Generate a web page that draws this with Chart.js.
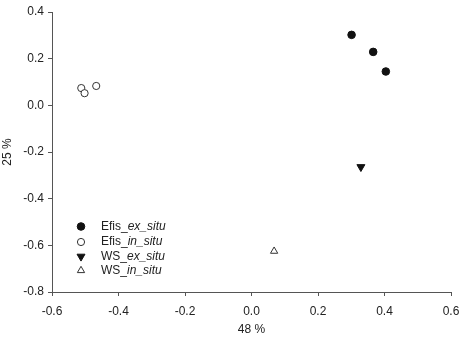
<!DOCTYPE html>
<html lang="en">
<head>
<meta charset="utf-8">
<title>PCA scatter</title>
<script src="https://cdn.jsdelivr.net/npm/chart.js"></script>
<style>
    body { margin: 0; background: #fff; }
    .wrap { width: 460px; height: 339px; position: relative; }
</style>
</head>
<body>
<div class="wrap"><canvas id="plot"></canvas></div>
<script>
// values
var efisExX = [0.301, 0.366, 0.404];
var efisExY = [0.302, 0.229, 0.145];
var efisInX = [-0.512, -0.502, -0.467];
var efisInY = [0.074, 0.052, 0.083];
var wsExX = [0.329];
var wsExY = [-0.264];
var wsInX = [0.068];
var wsInY = [-0.625];

var xTitle = "48 %";
var yTitle = "25 %";
var legendNames = [["Efis_", "ex_situ"], ["Efis_", "in_situ"], ["WS_", "ex_situ"], ["WS_", "in_situ"]];

var FONT = '"Liberation Sans", Arial, sans-serif';
var TEXT = '#222';
var AXIS = '#555';

function pts(xs, ys) {
    var out = [];
    for (var i = 0; i < xs.length; i++) out.push({x: xs[i], y: ys[i]});
    return out;
}

var sets = [
    {label: legendNames[0].join(''), data: pts(efisExX, efisExY), pointStyle: 'circle', pointRadius: 3.8, pointRotation: 0,
     backgroundColor: '#111', borderColor: '#111', pointBorderWidth: 1},
    {label: legendNames[1].join(''), data: pts(efisInX, efisInY), pointStyle: 'circle', pointRadius: 3.6, pointRotation: 0,
     backgroundColor: '#fff', borderColor: '#333', pointBorderWidth: 1},
    {label: legendNames[2].join(''), data: pts(wsExX, wsExY), pointStyle: 'triangle', pointRadius: 4.6, pointRotation: 180,
     backgroundColor: '#111', borderColor: '#111', pointBorderWidth: 1},
    {label: legendNames[3].join(''), data: pts(wsInX, wsInY), pointStyle: 'triangle', pointRadius: 4.2, pointRotation: 0,
     backgroundColor: '#fff', borderColor: '#333', pointBorderWidth: 1}
];

// legend with mixed upright / italic text, drawn inside the plot
var mixedLegend = {
    id: 'mixedLegend',
    afterDraw: function(chart) {
        var ctx = chart.ctx;
        var area = chart.chartArea;
        var mx = area.left + 29;
        var tx = area.left + 49;
        var rows = [226.5, 242, 256.5, 270.5];
        ctx.save();
        for (var i = 0; i < sets.length; i++) {
            var d = sets[i];
            ctx.fillStyle = d.backgroundColor;
            ctx.strokeStyle = d.borderColor;
            ctx.lineWidth = 1;
            Chart.helpers.drawPoint(ctx, {
                pointStyle: d.pointStyle,
                rotation: d.pointRotation,
                radius: d.pointRadius,
                borderWidth: 1
            }, mx, rows[i]);
            ctx.fillStyle = TEXT;
            ctx.textBaseline = 'middle';
            ctx.textAlign = 'left';
            ctx.font = '12px ' + FONT;
            ctx.fillText(legendNames[i][0], tx, rows[i]);
            var w = ctx.measureText(legendNames[i][0]).width;
            ctx.font = 'italic 12px ' + FONT;
            ctx.fillText(legendNames[i][1], tx + w, rows[i]);
        }
        ctx.restore();
    }
};

function fmt(v) { return Number(v).toFixed(1); }

var chart = new Chart(document.getElementById('plot'), {
    type: 'scatter',
    data: {datasets: sets},
    options: {
        responsive: true,
        maintainAspectRatio: false,
        animation: false,
        layout: {padding: {top: 12, right: 9, bottom: 0, left: 0}},
        plugins: {
            legend: {display: false},
            tooltip: {enabled: false}
        },
        scales: {
            x: {
                type: 'linear',
                min: -0.6,
                max: 0.6,
                ticks: {stepSize: 0.2, callback: fmt, color: TEXT, font: {size: 12, family: FONT}, padding: 8, maxRotation: 0},
                grid: {drawOnChartArea: false, drawTicks: true, tickLength: 4, color: AXIS},
                border: {color: AXIS, width: 1},
                title: {display: true, text: xTitle, color: TEXT, font: {size: 12, family: FONT}, padding: {top: 2, bottom: 2}},
                afterFit: function(s) { s.height = 47; s.paddingLeft = 0; s.paddingRight = 0; }
            },
            y: {
                type: 'linear',
                min: -0.8,
                max: 0.4,
                ticks: {stepSize: 0.2, callback: fmt, color: TEXT, font: {size: 12, family: FONT}, padding: 4},
                grid: {drawOnChartArea: false, drawTicks: true, tickLength: 4, color: AXIS},
                border: {color: AXIS, width: 1},
                title: {display: true, text: yTitle, color: TEXT, font: {size: 12, family: FONT}, padding: {top: 0, bottom: 0}},
                afterFit: function(s) { s.width = 52; s.paddingTop = 0; s.paddingBottom = 0; }
            }
        }
    },
    plugins: [mixedLegend]
});
</script>
</body>
</html>
